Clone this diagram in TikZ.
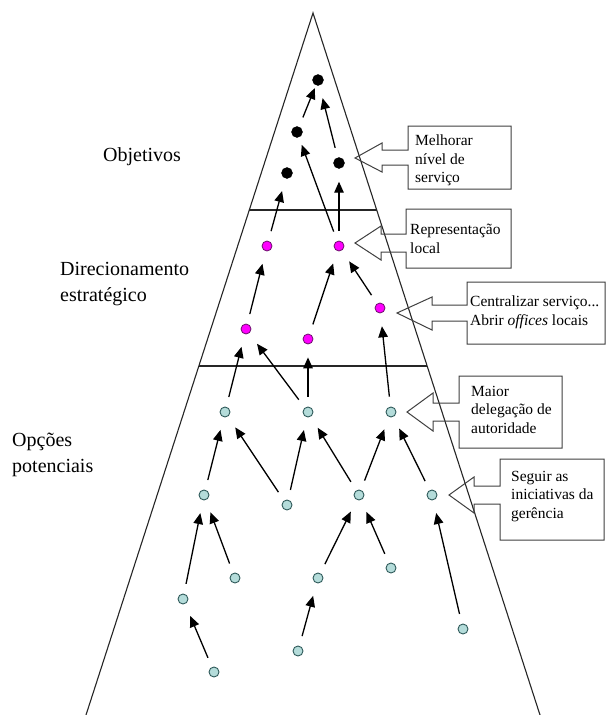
\documentclass[tikz,border=0pt]{standalone}
\usepackage{fontspec}
\setmainfont{Liberation Serif}
\usetikzlibrary{arrows.meta}
\definecolor{cyanfill}{HTML}{B4DCDA}
\definecolor{cyanline}{HTML}{2F5A5A}
\definecolor{pinkfill}{HTML}{FF00FF}
\definecolor{pinkline}{HTML}{6A106A}
\begin{document}
\begin{tikzpicture}[x=1pt,y=-1pt,
  frame/.style={line width=1.1pt, draw=black!85},
  blacknode/.style={circle, fill=black, draw=black, inner sep=0pt, minimum size=11pt},
  pinknode/.style={circle, fill=pinkfill, draw=pinkline, line width=0.8pt, inner sep=0pt, minimum size=10pt},
  cyannode/.style={circle, fill=cyanfill, draw=cyanline, line width=0.9pt, inner sep=0pt, minimum size=10pt},
  link/.style={line width=1.3pt, -{Triangle[length=11pt,width=9.5pt]}, shorten <=10pt, shorten >=13pt},
  callout/.style={line width=1pt, draw=black!75},
  level/.style={font=\fontsize{20}{26}\selectfont, align=left, anchor=north west, inner sep=0pt},
  note/.style={font=\fontsize{15.5}{18.5}\selectfont, align=left, anchor=north west, inner sep=0pt}
]
\useasboundingbox (0,0) rectangle (606,715);
\fill[white] (0,0) rectangle (606,715);

% pyramid outline and level separators
\coordinate (apex) at (313,13);
\coordinate (bl) at (86,715);
\coordinate (br) at (540,715);
\coordinate (s1l) at (249,210);
\coordinate (s1r) at (377,210);
\coordinate (s2l) at (199,366);
\coordinate (s2r) at (427,366);
\draw[frame] (bl) -- (apex) -- (br);
\draw[frame] (s1l) -- (s1r);
\draw[frame] (s2l) -- (s2r);

% level names
\node[level] (lobj) at (103,147) {Objetivos};
\node[level] (ldir) at (60,262) {Direcionamento\\estratégico};
\node[level] (lopc) at (12,433) {Opções\\potenciais};

% objectives
\node[blacknode] (b1) at (318,80) {};
\node[blacknode] (b2) at (297,132) {};
\node[blacknode] (b3) at (339,163) {};
\node[blacknode] (b4) at (287,173) {};

% strategic direction
\node[pinknode] (p1) at (267,246) {};
\node[pinknode] (p2) at (339,246) {};
\node[pinknode] (p3) at (246,329) {};
\node[pinknode] (p4) at (308,339) {};
\node[pinknode] (p5) at (380,308) {};

% potential options
\node[cyannode] (c1) at (225,412) {};
\node[cyannode] (c2) at (308,412) {};
\node[cyannode] (c3) at (391,412) {};
\node[cyannode] (d1) at (204,495) {};
\node[cyannode] (d2) at (287,505) {};
\node[cyannode] (d3) at (359,495) {};
\node[cyannode] (d4) at (432,495) {};
\node[cyannode] (e1) at (235,578) {};
\node[cyannode] (e2) at (183,599) {};
\node[cyannode] (e3) at (318,578) {};
\node[cyannode] (e4) at (391,568) {};
\node[cyannode] (e5) at (463,629) {};
\node[cyannode] (f1) at (214,672) {};
\node[cyannode] (f2) at (298,651) {};

% links
\draw[link] (p1) -- (b4);
\draw[link, shorten >=3pt] (b2) -- (b1);
\draw[link] (b3) -- (b1);
\draw[link, shorten >=8pt] (p2) -- (b2);
\draw[link] (p2) -- (b3);
\draw[link] (p3) -- (p1);
\draw[link] (p4) -- (p2);
\draw[link] (p5) -- (p2);
\draw[link] (c1) -- (p3);
\draw[link] (c2) -- (p3);
\draw[link] (c2) -- (p4);
\draw[link] (c3) -- (p5);
\draw[link] (d1) -- (c1);
\draw[link] (d2) -- (c1);
\draw[link] (d2) -- (c2);
\draw[link] (d3) -- (c2);
\draw[link] (d3) -- (c3);
\draw[link] (d4) -- (c3);
\draw[link] (e2) -- (d1);
\draw[link] (e1) -- (d1);
\draw[link] (f1) -- (e2);
\draw[link] (e3) -- (d3);
\draw[link] (e4) -- (d3);
\draw[link] (f2) -- (e3);
\draw[link] (e5) -- (d4);

% callouts
\draw[callout] (355,158) -- (382,143) -- (382,150) -- (408,150) -- (408,126) -- (511,126)
  -- (511,189) -- (408,189) -- (408,165) -- (382,165) -- (382,172) -- cycle;
\node[note] (n1) at (415,135) {Melhorar\\nível de\\serviço};

\draw[callout] (355,243) -- (381,226) -- (381,234) -- (406,234) -- (406,209) -- (511,209)
  -- (511,268) -- (406,268) -- (406,252) -- (381,252) -- (381,260) -- cycle;
\node[note] (n2) at (410,224) {Representação\\local};

\draw[callout] (397,313) -- (432,297) -- (432,305) -- (467,305) -- (467,282) -- (605,282)
  -- (605,344) -- (467,344) -- (467,321) -- (432,321) -- (432,330) -- cycle;
\node[note] (n3) at (470,296) {Centralizar serviço...\\Abrir \textit{offices} locais};

\draw[callout] (407,412) -- (433,393) -- (433,403) -- (459,403) -- (459,376) -- (562,376)
  -- (562,448) -- (459,448) -- (459,421) -- (433,421) -- (433,431) -- cycle;
\node[note] (n4) at (471,386) {Maior\\delegação de\\autoridade};

\draw[callout] (449,495) -- (474,477) -- (474,486) -- (500,486) -- (500,459) -- (604,459)
  -- (604,540) -- (500,540) -- (500,504) -- (474,504) -- (474,513) -- cycle;
\node[note] (n5) at (511,471) {Seguir as\\iniciativas da\\gerência};
\end{tikzpicture}
\end{document}
